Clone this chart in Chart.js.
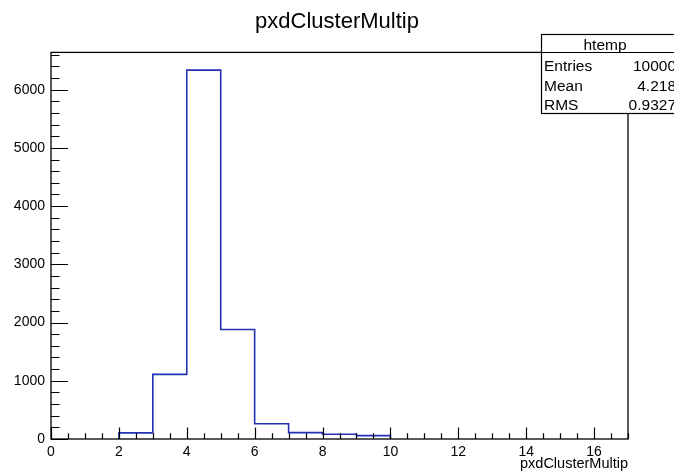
<!DOCTYPE html>
<html>
<head>
<meta charset="utf-8">
<script src="https://cdn.jsdelivr.net/npm/chart.js@4"></script>
<style>
  html, body { margin: 0; padding: 0; background: #fff; }
  #wrap { width: 674px; height: 474px; position: relative; }
</style>
</head>
<body>
<div id="wrap"><canvas id="hist"></canvas></div>
<script>
// -------------------------
// Datos del histograma
// -------------------------
const binLow = [2, 3, 4, 5, 6, 7, 8, 9];
const counts = [105, 1110, 6335, 1880, 262, 110, 82, 58];
const xTicks = [0, 2, 4, 6, 8, 10, 12, 14, 16];
const yTicks = [0, 1000, 2000, 3000, 4000, 5000, 6000];
const statLabels = ['Entries', 'Mean', 'RMS'];
const statValues = ['10000', '4.218', '0.9327'];

const FONT = '"Liberation Sans", Arial, Helvetica, sans-serif';
const BLUE = '#2230b4';

// contorno escalonado construido desde los bins
const steps = [{ x: binLow[0], y: 0 }]
  .concat(binLow.map((x, i) => ({ x: x, y: counts[i] })))
  .concat([{ x: binLow[binLow.length - 1] + 1, y: 0 }]);

// -------------------------
// Marco, ticks internos y caja de estadística (estilo ROOT)
// -------------------------
const rootFrame = {
  id: 'rootFrame',
  afterDatasetsDraw(chart) {
    const { ctx, chartArea: a, scales } = chart;
    const xs = scales.x, ys = scales.y;
    ctx.save();
    ctx.strokeStyle = '#000';
    ctx.lineWidth = 1.3;
    ctx.strokeRect(a.left, a.top, a.right - a.left, a.bottom - a.top);

    ctx.lineWidth = 1.2;
    ctx.beginPath();
    // eje y: mayores cada 1000, menores cada 200
    for (let v = 0; v <= ys.max; v += 200) {
      const py = Math.round(ys.getPixelForValue(v)) + 0.5;
      const len = v % 1000 === 0 ? 17 : 8.5;
      ctx.moveTo(a.left, py);
      ctx.lineTo(a.left + len, py);
    }
    // eje x: mayores cada 2, menores cada 0.5
    for (let v = 0; v <= xs.max; v += 0.5) {
      const px = Math.round(xs.getPixelForValue(v)) + 0.5;
      const len = v % 2 === 0 ? 11.6 : 5.8;
      ctx.moveTo(px, a.bottom);
      ctx.lineTo(px, a.bottom - len);
    }
    ctx.stroke();
    ctx.restore();
  },
  afterDraw(chart) {
    const ctx = chart.ctx;
    const left = 541, top = 34, sep = 52, bottom = 113, right = 690;
    ctx.save();
    ctx.fillStyle = '#fff';
    ctx.fillRect(left, top, right - left, bottom - top);
    ctx.strokeStyle = '#000';
    ctx.lineWidth = 1.2;
    ctx.strokeRect(left + 0.5, top + 0.5, right - left, bottom - top);
    ctx.beginPath();
    ctx.moveTo(left, sep + 0.5);
    ctx.lineTo(right, sep + 0.5);
    ctx.stroke();

    ctx.fillStyle = '#000';
    ctx.font = '15.5px ' + FONT;
    ctx.textBaseline = 'alphabetic';
    ctx.textAlign = 'center';
    ctx.fillText('htemp', 605, 50);
    const rowBase = [71, 90.5, 109.5];
    statLabels.forEach((lab, i) => {
      ctx.textAlign = 'left';
      ctx.fillText(lab, 544, rowBase[i]);
      ctx.textAlign = 'right';
      ctx.fillText(statValues[i], 676, rowBase[i]);
    });
    ctx.restore();
  }
};

new Chart(document.getElementById('hist'), {
  type: 'line',
  data: {
    datasets: [{
      data: steps,
      stepped: 'before',
      borderColor: BLUE,
      borderWidth: 1.6,
      pointRadius: 0,
      fill: false
    }]
  },
  options: {
    responsive: true,
    maintainAspectRatio: false,
    animation: false,
    layout: { padding: 0 },
    plugins: {
      legend: { display: false },
      tooltip: { enabled: false },
      title: {
        display: true,
        text: 'pxdClusterMultip',
        color: '#000',
        font: { family: FONT, size: 22, weight: 'normal', lineHeight: 1.2 },
        padding: { top: 9, bottom: 17 }
      }
    },
    scales: {
      x: {
        type: 'linear',
        min: 0,
        max: 17,
        afterBuildTicks: s => { s.ticks = xTicks.map(v => ({ value: v })); },
        afterFit: s => { s.height = 35; },
        grid: { display: false, drawTicks: false },
        border: { display: false },
        ticks: {
          color: '#000',
          padding: 5,
          maxRotation: 0,
          autoSkip: false,
          font: { family: FONT, size: 14 },
          callback: v => String(v)
        },
        title: {
          display: true,
          text: 'pxdClusterMultip',
          align: 'end',
          color: '#000',
          font: { family: FONT, size: 14.5 },
          padding: { top: 0, bottom: 1 }
        }
      },
      y: {
        min: 0,
        max: 6640,
        afterBuildTicks: s => { s.ticks = yTicks.map(v => ({ value: v })); },
        afterFit: s => { s.width = 51; },
        grid: { display: false, drawTicks: false },
        border: { display: false },
        ticks: {
          color: '#000',
          padding: 6,
          autoSkip: false,
          font: { family: FONT, size: 14 },
          callback: v => String(v)
        }
      },
      // margen derecho del marco (sin etiquetas)
      yRight: {
        position: 'right',
        min: 0,
        max: 6640,
        afterFit: s => { s.width = 46; },
        grid: { display: false, drawTicks: false },
        border: { display: false },
        ticks: { display: false }
      }
    }
  },
  plugins: [rootFrame]
});
</script>
</body>
</html>
